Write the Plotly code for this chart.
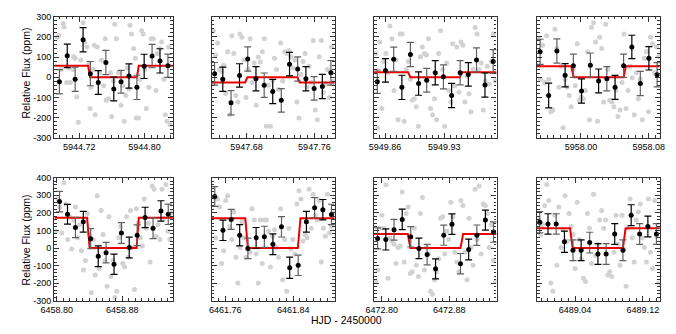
import plotly.graph_objects as go

FONT = "Liberation Sans, Arial, Helvetica, sans-serif"

# ---- panel 1 : 5944 ----
p1_gx = [5944.6929, 5944.6949, 5944.6976, 5944.7003, 5944.7015, 5944.7046, 5944.7073, 5944.7092, 5944.7123, 5944.7131,
         5944.7150, 5944.7170, 5944.7189, 5944.7220, 5944.7247, 5944.7267, 5944.7294, 5944.7317, 5944.7333, 5944.7344,
         5944.7371, 5944.7383, 5944.7395, 5944.7422, 5944.7449, 5944.7472, 5944.7499, 5944.7519, 5944.7530, 5944.7557,
         5944.7584, 5944.7596, 5944.7619, 5944.7635, 5944.7654, 5944.7681, 5944.7712, 5944.7732, 5944.7751, 5944.7771,
         5944.7790, 5944.7809, 5944.7821, 5944.7840, 5944.7867, 5944.7887, 5944.7898, 5944.7926, 5944.7945, 5944.7964,
         5944.7984, 5944.8003, 5944.8022, 5944.8053, 5944.8081, 5944.8108, 5944.8139, 5944.8158, 5944.8185, 5944.8209,
         5944.8236, 5944.8255, 5944.8274, 5944.8294, 5944.8313]
p1_gy = [198, 206, 38, 266, 249, -26, 46, -26, 38, 102,
         94, -98, -222, 86, 270, 174, 150, 70, -154, -50,
         38, 158, -186, 150, 22, 86, -42, 190, -114, -106,
         22, -194, -18, 262, 190, 22, -138, -42, -218, -90,
         46, -58, 258, 214, 142, 94, -202, -202, -10, 230,
         214, 38, -154, -50, 190, 190, -66, 118, 142, 174,
         -10, -186, -218, 150, -234]
p1_bx = [5944.6957, 5944.7053, 5944.7150, 5944.7247, 5944.7336, 5944.7433, 5944.7526, 5944.7623,
         5944.7712, 5944.7809, 5944.7906, 5944.7995, 5944.8092, 5944.8189, 5944.8286]
p1_by = [-22, 106, -10, 186, 18, -26, 73, -58, -22, 6, -50, 54, 105, 81, 57]
p1_be = [60, 58, 60, 60, 60, 59, 60, 59, 56, 60, 60, 60, 58, 60, 58]
p1_mx = [5944.6895, 5944.7309, 5944.7333, 5944.7906, 5944.7929, 5944.8347]
p1_my = [57, 57, 0, 0, 57, 57]

# ---- panel 2 : 5947 ----
p2_gx = [5947.6410, 5947.6434, 5947.6458, 5947.6482, 5947.6506, 5947.6530, 5947.6554, 5947.6578, 5947.6602, 5947.6626,
         5947.6650, 5947.6674, 5947.6698, 5947.6722, 5947.6746, 5947.6770, 5947.6794, 5947.6818, 5947.6842, 5947.6866,
         5947.6890, 5947.6914, 5947.6938, 5947.6962, 5947.6986, 5947.7010, 5947.7034, 5947.7058, 5947.7082, 5947.7106,
         5947.7130, 5947.7154, 5947.7178, 5947.7202, 5947.7226, 5947.7250, 5947.7274, 5947.7298, 5947.7322, 5947.7346,
         5947.7370, 5947.7394, 5947.7418, 5947.7442, 5947.7466, 5947.7490, 5947.7514, 5947.7538, 5947.7562, 5947.7586,
         5947.7610, 5947.7634, 5947.7658, 5947.7682, 5947.7706, 5947.7730, 5947.7754, 5947.7778, 5947.7802, 5947.7826]
p2_gy = [230, 110, 170, 38, 30, 60, -80, 126, -186, 206,
         118, -90, -122, 214, 198, 86, -100, 40, 190, -26,
         70, -138, 100, 76, 126, 190, -242, -40, -242, -18,
         94, 38, -60, 169, -18, 126, 118, 133, 102, 46,
         86, -122, -202, 14, 78, 118, -50, 54, -26, 182,
         -162, -210, 102, 182, -74, -34, 38, -100, 150, -20]
p2_bx = [5947.6423, 5947.6520, 5947.6617, 5947.6717, 5947.6814, 5947.6911, 5947.7008, 5947.7109,
         5947.7210, 5947.7307, 5947.7403, 5947.7500, 5947.7597, 5947.7694, 5947.7795]
p2_by = [17, -10, -126, 9, 90, -7, -39, -70, -114, 65, 41, -7, -55, -46, 22]
p2_be = [56, 60, 60, 58, 60, 60, 60, 60, 58, 58, 60, 60, 58, 60, 61]
p2_mx = [5947.6390, 5947.6783, 5947.6810, 5947.7400, 5947.7427, 5947.7840]
p2_my = [-26, -26, 0, 0, -26, -26]

# ---- panel 3 : 5949 ----
p3_gx = [5949.8490, 5949.8514, 5949.8538, 5949.8562, 5949.8586, 5949.8610, 5949.8634, 5949.8658, 5949.8682, 5949.8706,
         5949.8730, 5949.8754, 5949.8778, 5949.8802, 5949.8826, 5949.8850, 5949.8874, 5949.8898, 5949.8922, 5949.8946,
         5949.8970, 5949.8994, 5949.9018, 5949.9042, 5949.9066, 5949.9090, 5949.9114, 5949.9138, 5949.9162, 5949.9186,
         5949.9210, 5949.9234, 5949.9258, 5949.9282, 5949.9306, 5949.9330, 5949.9354, 5949.9378, 5949.9402, 5949.9426,
         5949.9450, 5949.9474, 5949.9498, 5949.9522, 5949.9546, 5949.9570, 5949.9594, 5949.9618, 5949.9642, 5949.9666,
         5949.9690, 5949.9714, 5949.9738, 5949.9762, 5949.9786, 5949.9810, 5949.9834, 5949.9858, 5949.9882, 5949.9906]
p3_gy = [118, -250, 174, -154, 78, 118, 22, 254, 190, -66,
         86, -210, 214, 214, -218, 38, 78, -10, -114, -106,
         -146, -242, 102, 150, 118, 110, 190, -154, -186, -106,
         -210, 118, 230, 38, -242, 70, -66, -122, 166, -42,
         150, -74, 174, 158, -122, 6, -82, -170, 38, 246,
         214, 38, 70, -162, -18, 54, -34, 78, 214, -18]
p3_bx = [5949.8508, 5949.8605, 5949.8702, 5949.8799, 5949.8900, 5949.8997, 5949.9093, 5949.9194,
         5949.9291, 5949.9388, 5949.9489, 5949.9586, 5949.9683, 5949.9783, 5949.9880]
p3_by = [-22, 34, 89, -50, 113, -31, -15, 22, 2, -90, 22, 14, 86, -38, 78]
p3_be = [58, 58, 60, 60, 60, 58, 59, 60, 59, 60, 60, 58, 59, 60, 59]
p3_mx = [5949.8470, 5949.8872, 5949.8900, 5949.9485, 5949.9512, 5949.9920]
p3_my = [25, 25, 0, 0, 25, 25]

# ---- panel 4 : 5958 ----
p4_gx = [5957.9500, 5957.9524, 5957.9548, 5957.9572, 5957.9596, 5957.9620, 5957.9644, 5957.9668, 5957.9692, 5957.9716,
         5957.9740, 5957.9764, 5957.9788, 5957.9812, 5957.9836, 5957.9860, 5957.9884, 5957.9908, 5957.9932, 5957.9956,
         5957.9980, 5958.0004, 5958.0028, 5958.0052, 5958.0076, 5958.0100, 5958.0124, 5958.0148, 5958.0172, 5958.0196,
         5958.0220, 5958.0244, 5958.0268, 5958.0292, 5958.0316, 5958.0340, 5958.0364, 5958.0388, 5958.0412, 5958.0436,
         5958.0460, 5958.0484, 5958.0508, 5958.0532, 5958.0556, 5958.0580, 5958.0604, 5958.0628, 5958.0652, 5958.0676,
         5958.0700, 5958.0724, 5958.0748, 5958.0772, 5958.0796, 5958.0820, 5958.0844, 5958.0868, 5958.0892, 5958.0916]
p4_gy = [190, -10, 158, -26, 206, -10, -170, -162, 238, 142,
         -50, 54, -250, -10, -50, -90, -146, 38, -42, 166,
         -114, -98, -106, -66, 126, -210, 246, 270, 174, -218,
         198, 142, -122, 262, 38, -114, -122, -146, -66, -194,
         -162, -26, 214, -154, -66, 54, -2, -186, 22, -106,
         -10, -210, 94, 126, -170, 198, 166, 22, 150, 102]
p4_bx = [5957.9518, 5957.9619, 5957.9716, 5957.9813, 5957.9910, 5958.0007, 5958.0111, 5958.0208,
         5958.0305, 5958.0402, 5958.0503, 5958.0600, 5958.0700, 5958.0801, 5958.0898]
p4_by = [126, -90, 130, 10, 57, -68, 60, -18, -7, -50, 57, 150, -31, 94, 12]
p4_be = [62, 61, 60, 58, 58, 60, 60, 59, 60, 59, 58, 58, 60, 58, 60]
p4_mx = [5957.9480, 5957.9886, 5957.9914, 5958.0503, 5958.0530, 5958.0930]
p4_my = [55, 55, 0, 0, 55, 55]

# ---- panel 5 : 6458 ----
p5_gx = [6458.7990, 6458.8014, 6458.8038, 6458.8062, 6458.8086, 6458.8110, 6458.8134, 6458.8158, 6458.8182, 6458.8206,
         6458.8230, 6458.8254, 6458.8278, 6458.8302, 6458.8326, 6458.8350, 6458.8374, 6458.8398, 6458.8422, 6458.8446,
         6458.8470, 6458.8494, 6458.8518, 6458.8542, 6458.8566, 6458.8590, 6458.8614, 6458.8638, 6458.8662, 6458.8686,
         6458.8710, 6458.8734, 6458.8758, 6458.8782, 6458.8806, 6458.8830, 6458.8854, 6458.8878, 6458.8902, 6458.8926,
         6458.8950, 6458.8974, 6458.8998, 6458.9022, 6458.9046, 6458.9070, 6458.9094, 6458.9118, 6458.9142, 6458.9166,
         6458.9190, 6458.9214, 6458.9238, 6458.9262, 6458.9286, 6458.9310, 6458.9334, 6458.9358, 6458.9382, 6458.9406]
p5_gy = [95, 279, 233, 86, 371, 251, 49, 178, -6, 159,
         233, 58, 132, -15, -125, -70, 196, 77, -254, 49,
         -153, 297, -116, 214, 77, -70, -217, 178, -162, -70,
         -281, -245, 58, 123, -88, -107, 178, -52, 214, 3,
         -236, 224, 141, 58, 12, 279, 113, 141, -79, 352,
         334, 67, 132, 49, 334, 169, 361, 95, 49, 200]
p5_bx = [6458.8034, 6458.8131, 6458.8228, 6458.8324, 6458.8414, 6458.8507, 6458.8603, 6458.8700,
         6458.8790, 6458.8886, 6458.8983, 6458.9080, 6458.9177, 6458.9274, 6458.9363]
p5_by = [264, 192, 117, 150, 53, -46, -26, -92, 86, 3, 73, 174, 113, 211, 192]
p5_be = [58, 56, 58, 59, 57, 59, 58, 58, 59, 59, 59, 58, 59, 58, 58]
p5_mx = [6458.7970, 6458.8371, 6458.8402, 6458.8976, 6458.9003, 6458.9420]
p5_my = [172, 172, 0, 0, 172, 172]

# ---- panel 6 : 6461 ----
p6_gx = [6461.7460, 6461.7484, 6461.7508, 6461.7532, 6461.7556, 6461.7580, 6461.7604, 6461.7628, 6461.7652, 6461.7676,
         6461.7700, 6461.7724, 6461.7748, 6461.7772, 6461.7796, 6461.7820, 6461.7844, 6461.7868, 6461.7892, 6461.7916,
         6461.7940, 6461.7964, 6461.7988, 6461.8012, 6461.8036, 6461.8060, 6461.8084, 6461.8108, 6461.8132, 6461.8156,
         6461.8180, 6461.8204, 6461.8228, 6461.8252, 6461.8276, 6461.8300, 6461.8324, 6461.8348, 6461.8372, 6461.8396,
         6461.8420, 6461.8444, 6461.8468, 6461.8492, 6461.8516, 6461.8540, 6461.8564, 6461.8588, 6461.8612, 6461.8636,
         6461.8660, 6461.8684, 6461.8708, 6461.8732, 6461.8756, 6461.8780, 6461.8804, 6461.8828, 6461.8852, 6461.8876]
p6_gy = [288, 58, 279, 233, -88, -15, 270, 297, 123, 49,
         205, -52, -199, 3, 150, 58, -52, 3, -24, 224,
         159, -33, -199, 159, -88, 159, 159, 95, -107, 67,
         104, 3, -52, 224, -180, 49, -245, 113, -6, 49,
         -33, 251, 325, 279, 40, 77, 58, 334, 113, 306,
         187, 159, 270, -79, 113, 67, 306, 86, 123, 200]
p6_bx = [6461.7475, 6461.7572, 6461.7669, 6461.7769, 6461.7866, 6461.7963, 6461.8060, 6461.8161,
         6461.8262, 6461.8359, 6461.8459, 6461.8556, 6461.8653, 6461.8750, 6461.8851]
p6_by = [293, 101, 163, 73, -2, 58, 64, 22, 121, -112, -98, 150, 229, 218, 191]
p6_be = [56, 58, 57, 60, 58, 59, 60, 59, 58, 60, 58, 59, 58, 58, 58]
p6_mx = [6461.7440, 6461.7835, 6461.7866, 6461.8455, 6461.8486, 6461.8890]
p6_my = [169, 169, 0, 0, 169, 169]

# ---- panel 7 : 6472 ----
p7_gx = [6472.7930, 6472.7954, 6472.7978, 6472.8002, 6472.8026, 6472.8050, 6472.8074, 6472.8098, 6472.8122, 6472.8146,
         6472.8170, 6472.8194, 6472.8218, 6472.8242, 6472.8266, 6472.8290, 6472.8314, 6472.8338, 6472.8362, 6472.8386,
         6472.8410, 6472.8434, 6472.8458, 6472.8482, 6472.8506, 6472.8530, 6472.8554, 6472.8578, 6472.8602, 6472.8626,
         6472.8650, 6472.8674, 6472.8698, 6472.8722, 6472.8746, 6472.8770, 6472.8794, 6472.8818, 6472.8842, 6472.8866,
         6472.8890, 6472.8914, 6472.8938, 6472.8962, 6472.8986, 6472.9010, 6472.9034, 6472.9058, 6472.9082, 6472.9106,
         6472.9130, 6472.9154, 6472.9178, 6472.9202, 6472.9226, 6472.9250, 6472.9274, 6472.9298, 6472.9322, 6472.9346]
p7_gy = [-190, -125, 113, 187, 113, 360, -171, 58, 40, 22,
         -88, 3, 12, 319, -79, 196, 233, -144, -135, 113,
         -98, -162, 196, 288, -125, 3, -33, -245, -263, -180,
         -135, -61, 169, 178, -33, 95, 49, 260, 178, -24,
         -79, -135, 270, 242, -24, -180, 169, 3, -98, 334,
         49, 352, -33, 251, 242, 196, 3, 132, -70, -190]
p7_bx = [6472.7952, 6472.8049, 6472.8146, 6472.8243, 6472.8344, 6472.8441, 6472.8538, 6472.8638,
         6472.8735, 6472.8832, 6472.8933, 6472.9030, 6472.9127, 6472.9228, 6472.9324]
p7_by = [55, 49, 104, 163, 64, -2, -37, -118, 73, 136, -89, -8, 73, 159, 91]
p7_be = [60, 60, 59, 58, 58, 58, 58, 57, 57, 58, 58, 59, 58, 57, 58]
p7_mx = [6472.7910, 6472.8309, 6472.8340, 6472.8933, 6472.8964, 6472.9360]
p7_my = [80, 80, 0, 0, 80, 80]

# ---- panel 8 : 6489 ----
p8_gx = [6488.9970, 6488.9994, 6489.0018, 6489.0042, 6489.0066, 6489.0090, 6489.0114, 6489.0138, 6489.0162, 6489.0186,
         6489.0210, 6489.0234, 6489.0258, 6489.0282, 6489.0306, 6489.0330, 6489.0354, 6489.0378, 6489.0402, 6489.0426,
         6489.0450, 6489.0474, 6489.0498, 6489.0522, 6489.0546, 6489.0570, 6489.0594, 6489.0618, 6489.0642, 6489.0666,
         6489.0690, 6489.0714, 6489.0738, 6489.0762, 6489.0786, 6489.0810, 6489.0834, 6489.0858, 6489.0882, 6489.0906,
         6489.0930, 6489.0954, 6489.0978, 6489.1002, 6489.1026, 6489.1050, 6489.1074, 6489.1098, 6489.1122, 6489.1146,
         6489.1170, 6489.1194, 6489.1218, 6489.1242, 6489.1266, 6489.1290, 6489.1314, 6489.1338, 6489.1362, 6489.1386]
p8_gy = [160, 77, 132, 242, 361, 270, -199, -245, 187, -98,
         233, 3, 104, 297, 40, 196, 123, 77, -116, 260,
         49, -61, -171, -190, 196, 113, -88, 306, -42, 22,
         159, 214, 113, 159, -153, -135, -162, -24, 187, 22,
         -98, 187, -6, -217, 113, 279, 58, -79, 159, 205,
         251, 58, 3, -79, 279, -24, -116, 270, 67, -199]
p8_bx = [6488.9984, 6489.0081, 6489.0178, 6489.0275, 6489.0376, 6489.0472, 6489.0573, 6489.0670,
         6489.0767, 6489.0868, 6489.0965, 6489.1062, 6489.1162, 6489.1259, 6489.1360]
p8_by = [147, 137, 137, 36, -12, -12, 31, -34, -34, 80, -12, 187, 80, 123, 80]
p8_be = [60, 58, 58, 60, 59, 59, 59, 59, 59, 59, 59, 59, 59, 59, 59]
p8_mx = [6488.9950, 6489.0341, 6489.0372, 6489.0965, 6489.0996, 6489.1400]
p8_my = [112, 112, 0, 0, 112, 112]

panels = [
    (p1_gx, p1_gy, p1_bx, p1_by, p1_be, p1_mx, p1_my),
    (p2_gx, p2_gy, p2_bx, p2_by, p2_be, p2_mx, p2_my),
    (p3_gx, p3_gy, p3_bx, p3_by, p3_be, p3_mx, p3_my),
    (p4_gx, p4_gy, p4_bx, p4_by, p4_be, p4_mx, p4_my),
    (p5_gx, p5_gy, p5_bx, p5_by, p5_be, p5_mx, p5_my),
    (p6_gx, p6_gy, p6_bx, p6_by, p6_be, p6_mx, p6_my),
    (p7_gx, p7_gy, p7_bx, p7_by, p7_be, p7_mx, p7_my),
    (p8_gx, p8_gy, p8_bx, p8_by, p8_be, p8_mx, p8_my),
]

x_tick0 = [5944.72, 5947.68, 5949.86, 5958.00, 6458.80, 6461.76, 6472.80, 6489.04]
x_dtick = [0.08, 0.08, 0.07, 0.08, 0.08, 0.08, 0.08, 0.08]
y_ticks_top = [-300, -200, -100, 0, 100, 200, 300]
y_ticks_bot = [-300, -200, -100, 0, 100, 200, 300, 400]

W, H = 676, 334
cols = [(41.5, 163.5), (203.5, 330.0), (370.5, 496.5), (538.0, 664.5)]
rows = [(12, 137), (178, 305)]

fig = go.Figure()
layout = {}
for i, (gx, gy, bx, by, be, mx, my) in enumerate(panels):
    n = i + 1
    xa = "x" if n == 1 else "x%d" % n
    ya = "y" if n == 1 else "y%d" % n
    fig.add_trace(go.Scatter(x=gx, y=gy, mode="markers", xaxis=xa, yaxis=ya,
                             marker=dict(size=5, color="#d2d2d2"), hoverinfo="skip"))
    fig.add_trace(go.Scatter(x=mx, y=my, mode="lines", xaxis=xa, yaxis=ya,
                             line=dict(color="#ee0000", width=2)))
    # binned points, error bars alternate dark grey / black
    for k, col in ((0, "#606060"), (1, "#000000")):
        fig.add_trace(go.Scatter(x=bx[k::2], y=by[k::2], mode="markers", xaxis=xa, yaxis=ya,
                                 marker=dict(size=5, color="black"),
                                 error_y=dict(type="data", array=be[k::2], color=col,
                                              thickness=1.2, width=3.5)))

    r, c = divmod(i, 4)
    x0, x1 = cols[c]
    y0, y1 = rows[r]
    common = dict(showline=True, mirror="ticks", linecolor="#333333", linewidth=1.3,
                  ticks="inside", ticklen=5, tickwidth=1, tickcolor="#333333",
                  showgrid=False, zeroline=False,
                  tickfont=dict(family=FONT, size=9, color="black"))
    layout["xaxis" if n == 1 else "xaxis%d" % n] = dict(
        domain=[x0 / W, x1 / W], anchor=ya, range=[mx[0], mx[-1]],
        tickmode="linear", tick0=x_tick0[i], dtick=x_dtick[i], tickformat=".2f",
        ticklabeloverflow="allow",
        minor=dict(ticks="inside", ticklen=2.5, tickcolor="#333333",
                   tick0=x_tick0[i], dtick=x_dtick[i] / 10, showgrid=False),
        **common)
    yt = y_ticks_top if r == 0 else y_ticks_bot
    layout["yaxis" if n == 1 else "yaxis%d" % n] = dict(
        domain=[1 - y1 / H, 1 - y0 / H], anchor=xa, range=[yt[0], yt[-1]],
        tickmode="array", tickvals=yt, ticktext=[str(v) for v in yt],
        showticklabels=(c == 0),
        minor=dict(ticks="inside", ticklen=2.5, tickcolor="#333333",
                   tick0=0, dtick=20, showgrid=False),
        **common)

fig.update_layout(**layout)
fig.update_layout(
    width=W, height=H, margin=dict(l=0, r=0, t=0, b=0),
    paper_bgcolor="white", plot_bgcolor="white", showlegend=False,
    font=dict(family=FONT, color="black"),
    annotations=[
        dict(text="Relative Flux (ppm)", x=12 / W, y=1 - 70 / H, xref="paper", yref="paper",
             xanchor="center", yanchor="middle",
             textangle=-90, showarrow=False, font=dict(size=10.5, family=FONT)),
        dict(text="Relative Flux (ppm)", x=12 / W, y=1 - 242 / H, xref="paper", yref="paper",
             xanchor="center", yanchor="middle",
             textangle=-90, showarrow=False, font=dict(size=10.5, family=FONT)),
        dict(text="HJD - 2450000", x=342 / W, y=1 - 325 / H, xref="paper", yref="paper",
             xanchor="center", yanchor="middle",
             showarrow=False, font=dict(size=10.5, family=FONT)),
    ],
)

fig.write_html("out.html", config={"displayModeBar": False},
               post_script="document.body.style.margin='0';")
